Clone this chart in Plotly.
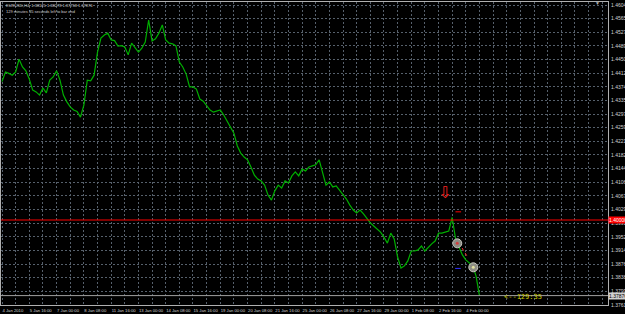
import plotly.graph_objects as go

# ---- data (EURUSD H4 closes) ----
bar_index = list(range(141))
close = [
    1.4389, 1.4416, 1.4412, 1.4407, 1.4416, 1.4452, 1.4430, 1.4419, 1.4396, 1.4365,
    1.4360, 1.4351, 1.4371, 1.4357, 1.4393, 1.4402, 1.4419, 1.4393, 1.4351, 1.4332,
    1.4318, 1.4309, 1.4305, 1.4289, 1.4323, 1.4393, 1.4391, 1.4407, 1.4472, 1.4511,
    1.4520, 1.4525, 1.4506, 1.4504, 1.4489, 1.4490, 1.4486, 1.4464, 1.4497, 1.4483,
    1.4472, 1.4483, 1.4500, 1.4562, 1.4503, 1.4509, 1.4525, 1.4548, 1.4506, 1.4497,
    1.4495, 1.4489, 1.4444, 1.4430, 1.4410, 1.4374, 1.4374, 1.4368, 1.4340, 1.4334,
    1.4320, 1.4309, 1.4303, 1.4306, 1.4309, 1.4295, 1.4278, 1.4264, 1.4244, 1.4208,
    1.4188, 1.4177, 1.4169, 1.4149, 1.4126, 1.4115, 1.4110, 1.4098, 1.4070, 1.4056,
    1.4082, 1.4098, 1.4090, 1.4110, 1.4104, 1.4124, 1.4135, 1.4124, 1.4143, 1.4138,
    1.4149, 1.4152, 1.4155, 1.4169, 1.4135, 1.4098, 1.4107, 1.4093, 1.4096, 1.4084,
    1.4070, 1.4059, 1.4042, 1.4028, 1.4020, 1.4028, 1.4017, 1.4003, 1.3992, 1.3983,
    1.3975, 1.3966, 1.3952, 1.3935, 1.3963, 1.3947, 1.3896, 1.3865, 1.3871, 1.3885,
    1.3913, 1.3913, 1.3916, 1.3927, 1.3913, 1.3924, 1.3933, 1.3941, 1.3963, 1.3963,
    1.3966, 1.3969, 1.4007, 1.3947, 1.3924, 1.3902, 1.3888, 1.3879, 1.3871, 1.3843,
    1.37876,
]
time_tick_index = [0, 8, 16, 24, 32, 40, 48, 56, 64, 72, 80, 88, 96, 104, 112, 120, 128, 136]
time_tick_labels = [
    "4 Jan 2010", "5 Jan 16:00", "7 Jan 00:00", "8 Jan 08:00", "11 Jan 16:00",
    "13 Jan 00:00", "14 Jan 08:00", "15 Jan 16:00", "19 Jan 00:00", "20 Jan 08:00",
    "21 Jan 16:00", "25 Jan 00:00", "26 Jan 08:00", "27 Jan 16:00", "29 Jan 00:00",
    "1 Feb 08:00", "2 Feb 16:00", "4 Feb 00:00",
]
price_tick_top = 1.46040
price_tick_step = 0.00383
level_line = 1.40000
bid_price = 1.37876
header_line1 = "EURUSD,H4  1.38125 1.38278 1.37758 1.37876"
header_line2 = "129 minutes 35 seconds left to bar end"
timer_text = "<--129:35"

trade_x = [133.5, 138.2]
trade_y = [1.39345, 1.38671]
arrow_x = [129.9]
arrow_y = [1.4073]
sl_x = [133.8]
sl_y = [1.4023]
tp_x = [133.7]
tp_y = [1.3864]
trade_link_x = [134.9, 136.7]
trade_link_y = [1.39213, 1.38932]

X_RANGE = [-0.3, 177.7]
Y_RANGE = [1.37612, 1.46126]

GRID = "#56606c"
FG = "#d0d0d0"

fig = go.Figure()

fig.add_trace(go.Scatter(x=bar_index, y=close, mode="lines",
                         line=dict(color="#00b000", width=1.2), hoverinfo="skip"))

# level line
fig.add_trace(go.Scatter(x=X_RANGE, y=[level_line, level_line], mode="lines",
                         line=dict(color="#ff0000", width=1), hoverinfo="skip"))
# bid line
fig.add_trace(go.Scatter(x=X_RANGE, y=[bid_price, bid_price], mode="lines",
                         line=dict(color="#a0a0a0", width=1), hoverinfo="skip"))

# trade link dotted
fig.add_trace(go.Scatter(x=trade_link_x, y=trade_link_y, mode="lines",
                         line=dict(color="#ff3030", width=1, dash="dot"), hoverinfo="skip"))
# SL / TP dashes
fig.add_trace(go.Scatter(x=sl_x, y=sl_y, mode="markers",
                         marker=dict(symbol="line-ew", size=4, line=dict(color="#ff0000", width=1)),
                         hoverinfo="skip"))
fig.add_trace(go.Scatter(x=tp_x, y=tp_y, mode="markers",
                         marker=dict(symbol="line-ew", size=4, line=dict(color="#3030ff", width=1)),
                         hoverinfo="skip"))
# trade circles
fig.add_trace(go.Scatter(x=trade_x, y=trade_y, mode="markers",
                         marker=dict(symbol="circle", size=9, color="#8c8c84",
                                     line=dict(color="#c8c8c0", width=1)),
                         hoverinfo="skip"))
fig.add_trace(go.Scatter(x=trade_x, y=trade_y, mode="markers",
                         marker=dict(symbol="circle", size=3, color=["#d04040", "#e0e0a0"]),
                         hoverinfo="skip"))
# red hollow down arrow
fig.add_trace(go.Scatter(x=arrow_x, y=arrow_y, mode="text", text=["⇩"],
                         textfont=dict(color="#ff2020", size=16, family="DejaVu Sans"),
                         hoverinfo="skip"))

annotations = [
    dict(xref="paper", yref="paper", x=0.005, y=0.990, xanchor="left", yanchor="middle",
         text=header_line1, showarrow=False, font=dict(size=4, color=FG, family="Liberation Sans")),
    dict(xref="paper", yref="paper", x=0.005, y=0.969, xanchor="left", yanchor="middle",
         text=header_line2, showarrow=False, font=dict(size=4, color=FG, family="Liberation Sans")),
    dict(xref="x", yref="paper", x=146.6, y=0.026, xanchor="left", yanchor="middle",
         text=timer_text, showarrow=False,
         font=dict(size=7, color="#d0d000", family="DejaVu Sans Mono")),
    dict(xref="paper", yref="y", x=1.0, y=level_line, xanchor="left", yanchor="middle",
         text="1.40000", showarrow=False, bgcolor="#ff0000", borderpad=0,
         font=dict(size=5, color="#ffffff", family="Liberation Sans")),
    dict(xref="paper", yref="y", x=1.0, y=bid_price, xanchor="left", yanchor="middle",
         text="1.37876", showarrow=False, bgcolor="#d0d0d0", borderpad=0,
         font=dict(size=5, color="#000000", family="Liberation Sans")),
    dict(xref="paper", yref="paper", x=0.982, y=0.997, xanchor="center", yanchor="middle",
         text="▼", showarrow=False, font=dict(size=5, color="#b0b0b0")),
]

fig.update_layout(
    width=625, height=314,
    margin=dict(l=1, r=17, t=2, b=9),
    paper_bgcolor="#000000", plot_bgcolor="#000000",
    showlegend=False,
    annotations=annotations,
    xaxis=dict(
        range=X_RANGE, tickmode="array", tickvals=time_tick_index, ticktext=time_tick_labels,
        ticklabelposition="outside right", ticks="", tickangle=0, showgrid=True,
        gridcolor=GRID, griddash="2px,2px", gridwidth=1,
        minor=dict(tickmode="linear", tick0=0, dtick=4, showgrid=True,
                   gridcolor=GRID, griddash="2px,2px", gridwidth=1),
        tickfont=dict(size=4.2, color=FG, family="Liberation Sans"),
        showline=True, linecolor="#b0b0b0", linewidth=1, mirror=True,
        zeroline=False, automargin=False, ticklabelstandoff=1,
    ),
    yaxis=dict(
        range=Y_RANGE, side="right", tickmode="linear", tick0=price_tick_top,
        dtick=price_tick_step, tickformat=".5f", ticks="",
        showgrid=True, gridcolor=GRID, griddash="2px,2px", gridwidth=1,
        tickfont=dict(size=5, color=FG, family="Liberation Sans"),
        showline=True, linecolor="#b0b0b0", linewidth=1, mirror=True,
        zeroline=False, automargin=False, ticklabelstandoff=1,
    ),
)

fig.write_html("out.html")
